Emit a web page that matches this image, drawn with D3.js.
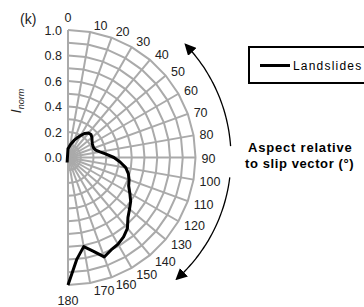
<!DOCTYPE html>
<html>
<head>
<meta charset="utf-8">
<script src="https://cdn.jsdelivr.net/npm/d3@7"></script>
<style>
  body { margin: 0; background: #fff; }
  svg { display: block; font-family: "Liberation Sans", Arial, sans-serif; }
</style>
</head>
<body>
<div id="chart"></div>
<script>
// angles (deg, relative to slip vector) and normalised intensity
// first point (-170) is the hidden left half poking out at the centre
const aspectAngles = [-170, 0, 5, 10, 15, 20, 25, 30, 35, 40, 45, 50, 55, 60, 65, 70, 75, 80, 85, 90,
  95, 100, 105, 110, 115, 120, 125, 130, 135, 140, 145, 150, 155, 160, 165, 170, 175, 180];
const landslides = [0.04, 0.07, 0.08, 0.10, 0.12, 0.145, 0.17, 0.20, 0.23, 0.25, 0.255, 0.245, 0.23, 0.22, 0.215, 0.215, 0.225, 0.255, 0.30, 0.36,
  0.41, 0.46, 0.49, 0.51, 0.525, 0.56, 0.60, 0.63, 0.665, 0.725, 0.76, 0.785, 0.80, 0.83, 0.76, 0.71, 0.80, 1.0];
const angleTicks = d3.range(0, 181, 10);
const radialTicks = [0, 0.2, 0.4, 0.6, 0.8, 1.0];
const ringLevels = d3.range(1, 11).map(d => d / 10);

const width = 364, height = 307;
const cx = 68, cy = 157.5, R = 127.5;

const svg = d3.select("#chart").append("svg")
  .attr("width", width)
  .attr("height", height);

const r = d3.scaleLinear().domain([0, 1]).range([0, R]);
const a = d3.scaleLinear().domain([0, 360]).range([0, 2 * Math.PI]);

const g = svg.append("g").attr("transform", `translate(${cx},${cy})`);

// rings (straight segments between spokes, like excel radar)
g.append("g").selectAll("path")
  .data(ringLevels)
  .join("path")
  .attr("d", v => d3.lineRadial().angle(d => a(d)).radius(r(v))(angleTicks))
  .attr("fill", "none")
  .attr("stroke", "#aaa")
  .attr("stroke-width", 2);

// spokes
g.append("g").selectAll("line")
  .data(angleTicks)
  .join("line")
  .attr("x1", 0).attr("y1", 0)
  .attr("x2", d => r(1) * Math.sin(a(d)))
  .attr("y2", d => -r(1) * Math.cos(a(d)))
  .attr("stroke", "#aaa")
  .attr("stroke-width", 2);

// angle labels - box sits just outside the spoke end
const ex = d => r(1) * Math.sin(a(d));
const ey = d => -r(1) * Math.cos(a(d));
g.append("g").selectAll("text")
  .data(angleTicks)
  .join("text")
  .attr("x", d => d % 180 === 0 ? ex(d) : ex(d) + 3 + 3 * Math.sin(a(d)))
  .attr("y", d => d === 0 ? ey(d) - 8 : d === 180 ? ey(d) + 20 : ey(d) + 5 - 7 * Math.cos(a(d)))
  .attr("text-anchor", d => d % 180 === 0 ? "middle" : "start")
  .attr("font-size", 12.5)
  .attr("fill", "#222")
  .text(d => d);

// radial axis labels
g.append("g").selectAll("text")
  .data(radialTicks)
  .join("text")
  .attr("x", -6)
  .attr("y", d => -r(d) + 4.5)
  .attr("text-anchor", "end")
  .attr("font-size", 12.5)
  .attr("fill", "#222")
  .text(d => d.toFixed(1));

// data line
g.append("path")
  .datum(d3.zip(aspectAngles, landslides))
  .attr("d", d3.lineRadial().angle(d => a(d[0])).radius(d => r(d[1])))
  .attr("fill", "none")
  .attr("stroke", "#000")
  .attr("stroke-width", 3)
  .attr("stroke-linejoin", "round");

// curved arrows
svg.append("defs").append("marker")
  .attr("id", "arr")
  .attr("viewBox", "0 0 10 10")
  .attr("refX", 8).attr("refY", 5)
  .attr("markerWidth", 9).attr("markerHeight", 9)
  .attr("orient", "auto-start-reverse")
  .append("path")
  .attr("d", "M0,0L10,5L0,10z")
  .attr("fill", "#000");

const arcR = 163;
const arcPath = (from, to) => d3.lineRadial()
  .angle(d => a(d)).radius(arcR).curve(d3.curveBasis)(d3.range(from, to + 0.01, (to - from) / 30));
g.append("path")
  .attr("d", arcPath(86, 45))
  .attr("fill", "none").attr("stroke", "#000").attr("stroke-width", 1.3)
  .attr("marker-end", "url(#arr)");
g.append("path")
  .attr("d", arcPath(97, 138))
  .attr("fill", "none").attr("stroke", "#000").attr("stroke-width", 1.3)
  .attr("marker-end", "url(#arr)");

// axis title
svg.append("text")
  .attr("x", 248).attr("y", 152)
  .attr("font-size", 13).attr("font-weight", "bold")
  .attr("letter-spacing", 0.8)
  .text("Aspect relative");
svg.append("text")
  .attr("x", 245).attr("y", 168)
  .attr("font-size", 13).attr("font-weight", "bold")
  .attr("letter-spacing", 0.6)
  .text("to slip vector (°)");

// y label
const yl = svg.append("text")
  .attr("transform", "translate(21,101) rotate(-90)")
  .attr("text-anchor", "middle")
  .attr("font-style", "italic")
  .attr("fill", "#222");
yl.append("tspan").attr("font-size", 14).text("I");
yl.append("tspan").attr("font-size", 9).attr("dy", 3).text("norm");

// panel letter
svg.append("text")
  .attr("x", 20).attr("y", 24)
  .attr("font-size", 14)
  .attr("fill", "#222")
  .text("(k)");

// legend
const leg = svg.append("g");
leg.append("rect")
  .attr("x", 249).attr("y", 47)
  .attr("width", 130).attr("height", 36)
  .attr("fill", "#fff").attr("stroke", "#000").attr("stroke-width", 2);
leg.append("line")
  .attr("x1", 260).attr("x2", 290)
  .attr("y1", 65.5).attr("y2", 65.5)
  .attr("stroke", "#000").attr("stroke-width", 3);
leg.append("text")
  .attr("x", 293).attr("y", 70)
  .attr("font-size", 12)
  .attr("letter-spacing", 1.2)
  .text("Landslides");
</script>
</body>
</html>
